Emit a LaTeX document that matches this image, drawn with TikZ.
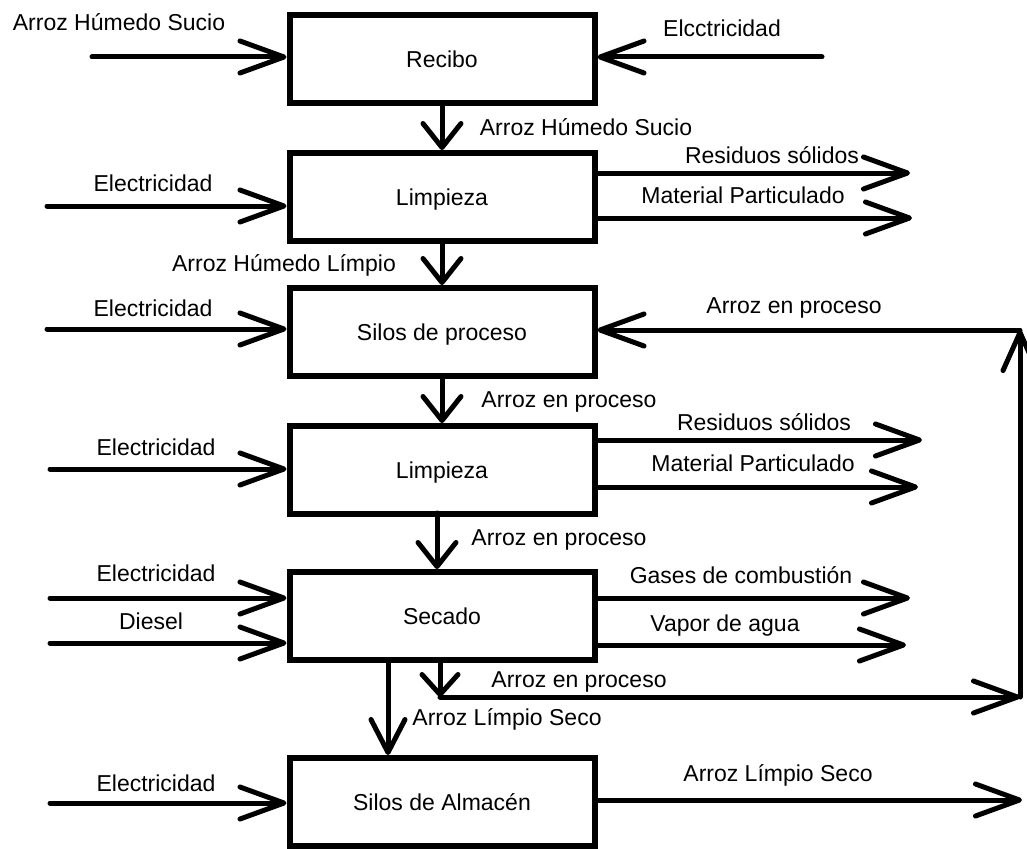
\documentclass[tikz,border=0pt]{standalone}
\usepackage{fontspec}
\setmainfont{Liberation Sans}
\usetikzlibrary{arrows.meta}

\tikzset{
  box/.style={draw, line width=6pt, minimum width=305pt, minimum height=88pt, inner sep=0pt, text height=16.5pt, text depth=0pt},
  lbl/.style={inner sep=0pt, text height=16.5pt, text depth=0pt},
  flow/.style={line width=5pt, line cap=round},
  hflow/.style={flow, -{Straight Barb[length=44pt, width=32pt, round]}},
  vflow/.style={flow, -{Straight Barb[length=24pt, width=38pt, round]}}
}

\begin{document}
\begin{tikzpicture}[x=1pt, y=-1pt, font=\fontsize{23}{27}\selectfont]
    \useasboundingbox (0,0) rectangle (1027,848);

    % Process boxes
    \node[box] (recibo) at (442,59) {Recibo};
    \node[box] (limp1) at (442,197) {Limpieza};
    \node[box] (silos) at (442,332) {Silos de proceso};
    \node[box] (limp2) at (442,470) {Limpieza};
    \node[box] (secado) at (442,616) {Secado};
    \node[box] (almacen) at (442,802) {Silos de Almacén};

    % Free ends
    \coordinate (in0) at (92,57);
    \coordinate (el0) at (822,57);
    \coordinate (el1) at (47,206);
    \coordinate (el2) at (47,329);
    \coordinate (el3) at (50,469);
    \coordinate (el4) at (50,598);
    \coordinate (ds4) at (50,643);
    \coordinate (el5) at (50,803);
    \coordinate (rs1) at (910,173);
    \coordinate (mp1) at (912,218);
    \coordinate (rs2) at (922,440);
    \coordinate (mp2) at (918,487);
    \coordinate (gc4) at (910,598);
    \coordinate (va4) at (906,645);
    \coordinate (out5) at (1022,800);
    \coordinate (l2s) at (437,513);
    \coordinate (lc) at (440,697);
    \coordinate (rc) at (1020,697);
    \coordinate (rt) at (1020,330);
    \coordinate (dn) at (388,660);

    % Main line
    \draw[vflow] (recibo) -- (limp1);
    \draw[vflow] (limp1) -- (silos);
    \draw[vflow] (silos) -- (limp2);
    \draw[vflow] (l2s) -- (l2s |- secado.north);
    \draw[flow, -{Straight Barb[length=33pt, width=34pt, round]}] (dn) -- (dn |- almacen.north);

    % Inputs
    \draw[hflow] (in0) -- (in0 -| recibo.west);
    \draw[hflow] (el0) -- (el0 -| recibo.east);
    \draw[hflow] (el1) -- (el1 -| limp1.west);
    \draw[hflow] (el2) -- (el2 -| silos.west);
    \draw[hflow] (el3) -- (el3 -| limp2.west);
    \draw[hflow] (el4) -- (el4 -| secado.west);
    \draw[hflow] (ds4) -- (ds4 -| secado.west);
    \draw[hflow] (el5) -- (el5 -| almacen.west);

    % Outputs
    \draw[hflow] (rs1 -| limp1.east) -- (rs1);
    \draw[hflow] (mp1 -| limp1.east) -- (mp1);
    \draw[hflow] (rs2 -| limp2.east) -- (rs2);
    \draw[hflow] (mp2 -| limp2.east) -- (mp2);
    \draw[hflow] (gc4 -| secado.east) -- (gc4);
    \draw[hflow] (va4 -| secado.east) -- (va4);
    \draw[hflow] (out5 -| almacen.east) -- (out5);

    % Recirculation
    \draw[flow, -{Straight Barb[length=20pt, width=36pt, round]}] (lc |- secado.south) -- (lc);
    \draw[hflow] (lc) -- (rc);
    \draw[flow, -{Straight Barb[length=38pt, width=34pt, round]}] (rc) -- (rt);
    \draw[hflow] (rt) -- (rt -| silos.east);

    % Labels
    \node[lbl] (t0) at (119,22) {Arroz Húmedo Sucio};
    \node[lbl] (t1) at (722,28) {Elcctricidad};
    \node[lbl] (t2) at (586,127) {Arroz Húmedo Sucio};
    \node[lbl] (t3) at (153,183) {Electricidad};
    \node[lbl] (t4) at (772,155) {Residuos sólidos};
    \node[lbl] (t5) at (743,195) {Material Particulado};
    \node[lbl] (t6) at (284,263) {Arroz Húmedo Límpio};
    \node[lbl] (t7) at (153,308) {Electricidad};
    \node[lbl] (t8) at (794,305) {Arroz en proceso};
    \node[lbl] (t9) at (569,399) {Arroz en proceso};
    \node[lbl] (t10) at (156,447) {Electricidad};
    \node[lbl] (t11) at (764,422) {Residuos sólidos};
    \node[lbl] (t12) at (753,463) {Material Particulado};
    \node[lbl] (t13) at (559,537) {Arroz en proceso};
    \node[lbl] (t14) at (156,573) {Electricidad};
    \node[lbl] (t15) at (151,621) {Diesel};
    \node[lbl] (t16) at (741,575) {Gases de combustión};
    \node[lbl] (t17) at (725,623) {Vapor de agua};
    \node[lbl] (t18) at (579,679) {Arroz en proceso};
    \node[lbl] (t19) at (507,717) {Arroz Límpio Seco};
    \node[lbl] (t20) at (156,783) {Electricidad};
    \node[lbl] (t21) at (778,773) {Arroz Límpio Seco};
\end{tikzpicture}
\end{document}
